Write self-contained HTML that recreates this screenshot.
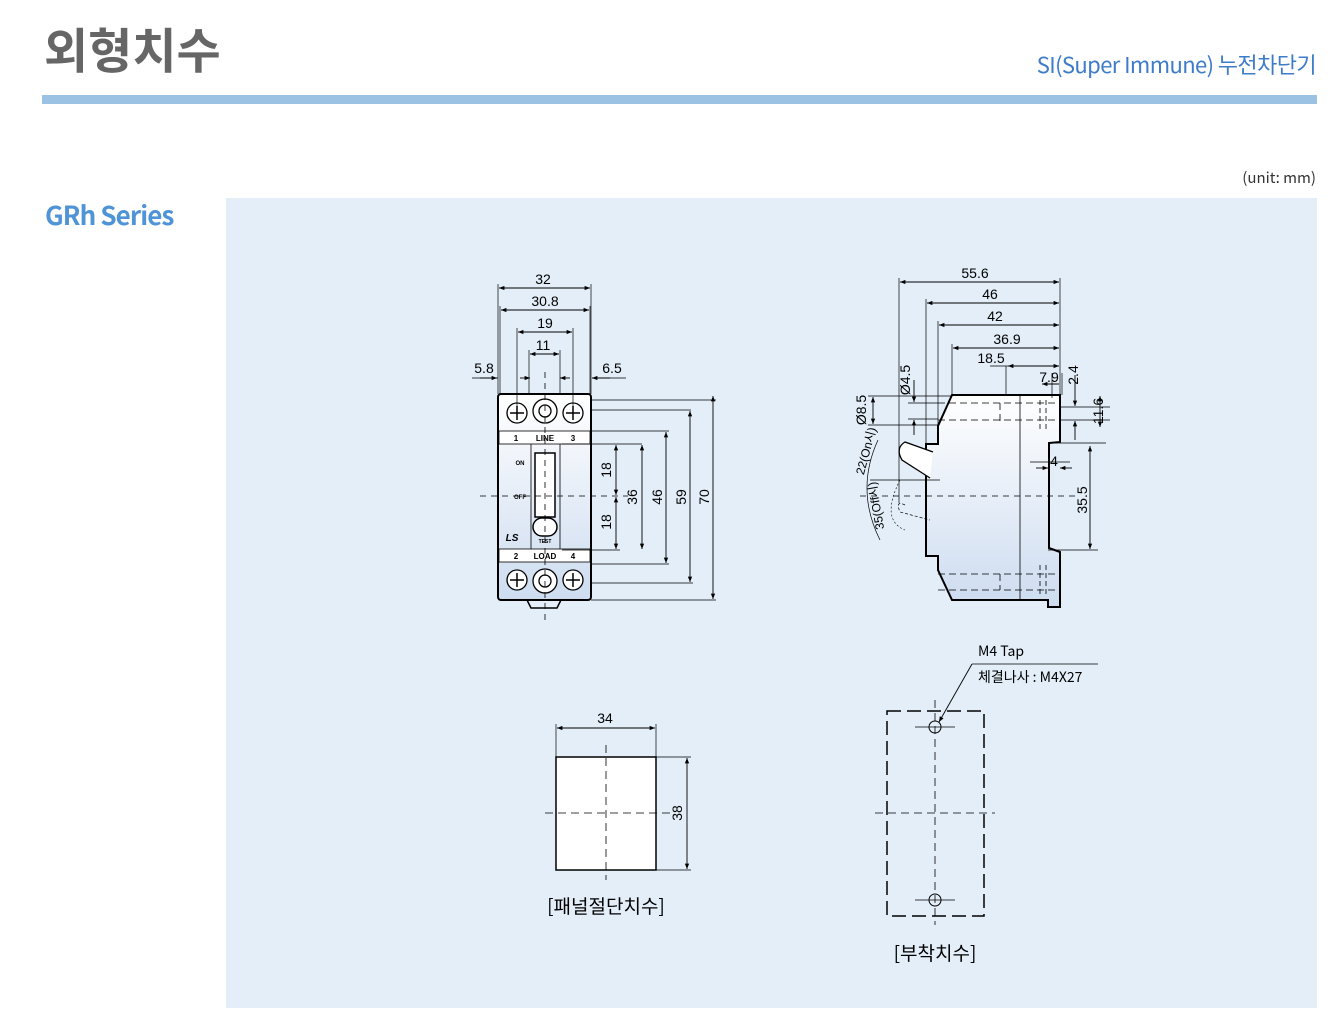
<!DOCTYPE html>
<html><head><meta charset="utf-8"><style>
body{margin:0;width:1330px;height:1011px;background:#fff;overflow:hidden;font-family:"Liberation Sans","Noto Sans CJK KR",sans-serif}
</style></head><body>
<svg width="1330" height="1011" xmlns="http://www.w3.org/2000/svg" font-family="Liberation Sans, Noto Sans CJK KR, sans-serif">
<defs>
<marker id="a" viewBox="0 0 10 10" refX="10" refY="5" markerWidth="8" markerHeight="6" orient="auto-start-reverse"><path d="M0,1 L10,5 L0,9z" fill="#000"/></marker>
<linearGradient id="g" x1="0" y1="0" x2="0" y2="1"><stop offset="0" stop-color="#fff"/><stop offset="1" stop-color="#cddcf0"/></linearGradient>
</defs>
<text x="44" y="68" font-size="48" font-weight="bold" fill="#666" font-family="Noto Sans CJK KR, sans-serif">외형치수</text>
<text x="1316" y="73" font-size="22" fill="#3d7cc9" text-anchor="end" letter-spacing="-0.6" font-family="Noto Sans CJK KR, sans-serif">SI(Super Immune) 누전차단기</text>
<rect x="42" y="95" width="1275" height="9" fill="#9bc2e3"/>
<text x="1316" y="183" font-size="15" fill="#333" text-anchor="end" font-family="Noto Sans CJK KR, sans-serif">(unit: mm)</text>
<text x="45" y="225" font-size="26" font-weight="bold" fill="#4f94d6" letter-spacing="-0.9" font-family="Noto Sans CJK KR, sans-serif">GRh Series</text>
<rect x="226" y="198" width="1091" height="810" fill="#e3eef8"/>

<g stroke="#000" stroke-width="1" fill="none">
<rect x="498" y="394" width="93" height="206" rx="3" fill="url(#g)" stroke-width="2"/>
<rect x="499" y="431" width="91" height="13" fill="#fff" stroke-width="0.8"/>
<rect x="499" y="549" width="91" height="13" fill="#fff" stroke-width="0.8"/>
<path d="M527,600 L531,608 L557,608 L561,600" stroke-width="1.5"/>
<line x1="531" y1="444" x2="531" y2="549" stroke-width="0.8"/>
<line x1="560" y1="444" x2="560" y2="549" stroke-width="0.8"/>
<rect x="535" y="453" width="20" height="64" stroke-width="1.5" fill="#fff"/>
<rect x="533" y="518" width="24" height="18" rx="9" stroke-width="1.5" fill="#fff"/>
<g stroke-width="1.3" fill="#fff">
<circle cx="517" cy="413" r="10"/><circle cx="545" cy="411" r="12"/><circle cx="545" cy="411" r="6"/><circle cx="573" cy="413" r="10"/>
<circle cx="517" cy="580" r="10"/><circle cx="545" cy="581" r="12"/><circle cx="545" cy="581" r="6"/><circle cx="573" cy="580" r="10"/>
</g>
<path d="M510,413h14M517,406v14M566,413h14M573,406v14M510,580h14M517,573v14M566,580h14M573,573v14" stroke-width="1.5"/>
<line x1="545" y1="372" x2="545" y2="620" stroke-dasharray="6,5" stroke-width="0.8"/>
<line x1="480" y1="496" x2="628" y2="496" stroke-dasharray="6,5" stroke-width="0.8"/>
<g stroke-width="0.7">
<path d="M498,284v110M591,284v110M500,306v88M590,306v88M517,328v84M573,328v84M529,350v44M560,350v44"/>
<path d="M591,410h100M591,400h125M591,431h78M562,444h80M562,550h58M591,564h78M591,583h102M591,600h125"/>
</g>
<g stroke-width="0.9" marker-start="url(#a)" marker-end="url(#a)">
<line x1="499" y1="288" x2="590" y2="288"/><line x1="501" y1="310" x2="589" y2="310"/>
<line x1="518" y1="332" x2="572" y2="332"/><line x1="530" y1="354" x2="559" y2="354"/>
<line x1="616" y1="445" x2="616" y2="495"/><line x1="616" y1="497" x2="616" y2="549"/>
<line x1="642" y1="445" x2="642" y2="549"/><line x1="666" y1="432" x2="666" y2="563"/>
<line x1="690" y1="411" x2="690" y2="582"/><line x1="713" y1="396" x2="713" y2="599"/>
</g>
<path d="M472,378h26M602,378h24" stroke-width="0.8"/>
<line x1="480" y1="378" x2="497" y2="378" marker-end="url(#a)" stroke-width="0.9"/>
<line x1="520" y1="378" x2="530" y2="378" marker-end="url(#a)" stroke-width="0.9"/>
<line x1="570" y1="378" x2="560" y2="378" marker-end="url(#a)" stroke-width="0.9"/>
<line x1="610" y1="378" x2="592" y2="378" marker-end="url(#a)" stroke-width="0.9"/>

<path d="M952,395 L1060,395 L1060,442 L1049,443 L1049,548 L1060,552 L1060,607 L1048,607 L1048,600 L952,600 L938,570 L938,556 L926,556 L926,444 L938,444 L938,426 Z" fill="url(#g)" stroke-width="2"/>
<line x1="1020" y1="395" x2="1020" y2="600" stroke-width="0.8"/>
<path d="M938,403 H1060 M938,420 H1060 M1000,403v18 M938,574H1060 M938,590H1060 M1000,574v16" stroke-dasharray="7,4" stroke-width="0.8"/>
<path d="M1040,400v30M1046,400v30M1040,565v30M1046,565v30" stroke-dasharray="5,3" stroke-width="0.8"/>
<path d="M933,452 L905,442 Q895,448 902,460 L930,478" fill="#fff" stroke-width="1.3"/>
<path d="M905,505 Q895,500 900,512 L930,520" stroke-dasharray="3,2" stroke-width="0.7"/>
<path d="M878,440 Q855,490 880,540" stroke-width="0.7"/>
<path d="M900,480 Q880,520 905,530" stroke-dasharray="2,2" stroke-width="0.6"/>
<line x1="860" y1="496" x2="1075" y2="496" stroke-dasharray="6,5" stroke-width="0.8"/>
<line x1="870" y1="480" x2="940" y2="480" stroke-width="0.7"/>
<g stroke-width="0.7">
<path d="M899,278v225M926,299v145M938,321v105M952,344v51M1060,278v117M1006,366v29"/>
<path d="M868,396h84M868,425h70M908,403h30M908,419h30M1060,407h50M1060,420h50M1048,443h58M1048,550h50"/>
<path d="M1052,373v25M1062,373v22M1030,462h40"/>
</g>
<g stroke-width="0.9" marker-start="url(#a)" marker-end="url(#a)">
<line x1="900" y1="282" x2="1059" y2="282"/><line x1="927" y1="303" x2="1059" y2="303"/>
<line x1="939" y1="325" x2="1059" y2="325"/><line x1="953" y1="348" x2="1059" y2="348"/>
<line x1="1100" y1="396" x2="1100" y2="427"/><line x1="1090" y1="446" x2="1090" y2="549"/>
<line x1="873" y1="397" x2="873" y2="424"/>
</g>
<line x1="990" y1="366" x2="1008" y2="366" stroke-width="0.7"/>
<line x1="1008" y1="366" x2="1059" y2="366" marker-end="url(#a)" marker-start="url(#a)" stroke-width="0.9"/>
<line x1="1042" y1="384" x2="1059" y2="384" marker-start="url(#a)" stroke-width="0.9"/>
<line x1="1075" y1="375" x2="1075" y2="406" marker-end="url(#a)" stroke-width="0.9"/>
<line x1="1075" y1="440" x2="1075" y2="421" marker-end="url(#a)" stroke-width="0.9"/>
<line x1="914" y1="380" x2="914" y2="402" marker-end="url(#a)" stroke-width="0.9"/>
<line x1="914" y1="435" x2="914" y2="420" marker-end="url(#a)" stroke-width="0.9"/>
<line x1="1036" y1="468" x2="1048" y2="468" marker-end="url(#a)" stroke-width="0.9"/>
<line x1="1072" y1="468" x2="1060" y2="468" marker-end="url(#a)" stroke-width="0.9"/>

<rect x="556" y="757" width="100" height="113" fill="#fff" stroke-width="1.5"/>
<line x1="606" y1="745" x2="606" y2="880" stroke-dasharray="8,5" stroke-width="0.8"/>
<line x1="545" y1="813" x2="670" y2="813" stroke-dasharray="8,5" stroke-width="0.8"/>
<path d="M556,724v33M656,724v33M656,757h35M656,870h35" stroke-width="0.7"/>
<line x1="557" y1="728" x2="655" y2="728" marker-start="url(#a)" marker-end="url(#a)" stroke-width="0.9"/>
<line x1="687" y1="758" x2="687" y2="869" marker-start="url(#a)" marker-end="url(#a)" stroke-width="0.9"/>

<rect x="887" y="711" width="97" height="205" stroke-dasharray="14,6" stroke-width="1.5"/>
<line x1="935" y1="700" x2="935" y2="925" stroke-dasharray="8,5" stroke-width="0.8"/>
<line x1="875" y1="813" x2="995" y2="813" stroke-dasharray="8,5" stroke-width="0.8"/>
<circle cx="935" cy="727" r="6"/><circle cx="935" cy="900" r="6"/>
<path d="M915,727h40M915,900h40" stroke-width="0.8"/>
<path d="M1098,664 H972" stroke-width="0.8"/>
<line x1="972" y1="664" x2="939" y2="722" marker-end="url(#a)" stroke-width="0.9"/>
</g>

<g font-size="14" fill="#000" text-anchor="middle">
<text x="543" y="284">32</text><text x="545" y="306">30.8</text><text x="545" y="328">19</text><text x="543" y="350">11</text>
<text x="484" y="373">5.8</text><text x="612" y="373">6.5</text>
<text transform="translate(611,470) rotate(-90)">18</text><text transform="translate(611,522) rotate(-90)">18</text>
<text transform="translate(637,497) rotate(-90)">36</text><text transform="translate(662,497) rotate(-90)">46</text>
<text transform="translate(686,497) rotate(-90)">59</text><text transform="translate(709,497) rotate(-90)">70</text>
<text x="975" y="278">55.6</text><text x="990" y="299">46</text><text x="995" y="321">42</text><text x="1007" y="344">36.9</text>
<text x="991" y="363">18.5</text><text x="1049" y="382">7.9</text>
<text transform="translate(1078,375) rotate(-90)">2.4</text><text transform="translate(1103,411) rotate(-90)">11.6</text>
<text transform="translate(1087,500) rotate(-90)">35.5</text><text x="1054" y="466">4</text>
<text transform="translate(910,380) rotate(-90)">Ø4.5</text><text transform="translate(866,410) rotate(-90)">Ø8.5</text>
<text transform="translate(870,452) rotate(-75)" font-size="12">22(On시)</text>
<text transform="translate(880,505) rotate(-100)" font-size="12">35(Off시)</text>
<text x="605" y="723">34</text><text transform="translate(682,813) rotate(-90)">38</text>
</g>
<g font-size="8" font-weight="bold" fill="#000" text-anchor="middle">
<text x="516" y="441">1</text><text x="545" y="441">LINE</text><text x="573" y="441">3</text>
<text x="516" y="559">2</text><text x="545" y="559">LOAD</text><text x="573" y="559">4</text>
<text x="520" y="465" font-size="6">ON</text><text x="520" y="499" font-size="6">OFF</text>
<text x="545" y="543" font-size="5">TEST</text><text x="512" y="541" font-style="italic" font-size="10">LS</text>
</g>
<g font-family="Noto Sans CJK KR, sans-serif" fill="#000">
<text x="978" y="656" font-size="14">M4 Tap</text>
<text x="978" y="682" font-size="14">체결나사 : M4X27</text>
<text x="606" y="913" font-size="19" text-anchor="middle">[패널절단치수]</text>
<text x="935" y="960" font-size="19" text-anchor="middle">[부착치수]</text>
</g>
</svg>
</body></html>
